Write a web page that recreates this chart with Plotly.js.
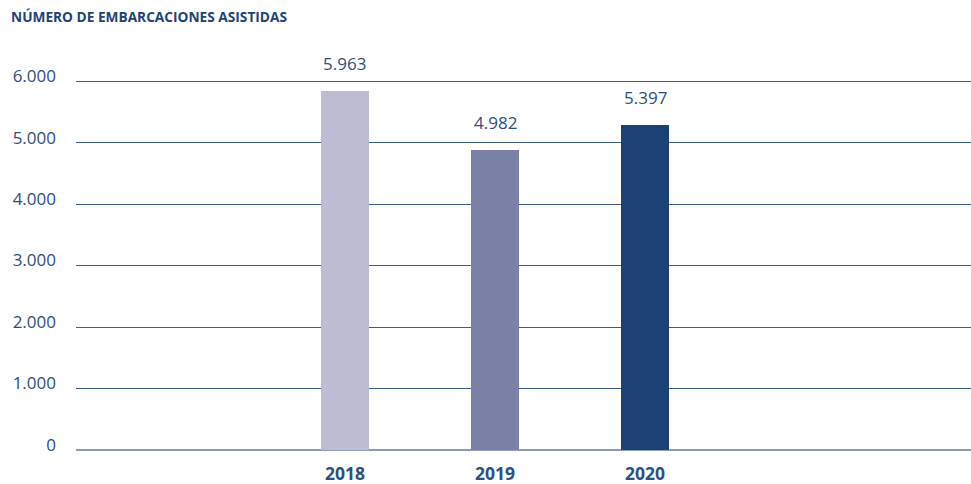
<!DOCTYPE html>
<html><head><meta charset="utf-8">
<script src="https://cdn.plot.ly/plotly-3.0.1.min.js"></script>
<style>html,body{margin:0;padding:0;background:#fff}#c{width:971px;height:484px}</style>
</head><body><div id="c"></div>
<script>
const years = [2018, 2019, 2020];
const labelValues = [5963, 4982, 5397];      // printed values
const barHeights = [5840, 4880, 5285];       // heights as drawn in the picture
const colors = ['#bcbdd3', '#7a80a6', '#1c4174'];
const yTicks = [0, 1000, 2000, 3000, 4000, 5000, 6000];
const fmtDot = v => String(v).replace(/\B(?=(\d{3})+(?!\d))/g, '.');

const trace = {
  type: 'bar', x: years, y: barHeights, width: 0.32,
  marker: {color: colors}, hoverinfo: 'skip'
};
const annotations = years.map((yr, i) => ({
  x: yr, y: barHeights[i], xref: 'x', yref: 'y', text: fmtDot(labelValues[i]),
  showarrow: false, yanchor: 'bottom', yshift: 14,
  font: {family: 'Open Sans', size: 17, color: '#2d4f80'}
}));
Plotly.newPlot('c', [trace], {
  width: 971, height: 484,
  margin: {l: 76, r: 0, t: 78, b: 34},
  paper_bgcolor: '#fff', plot_bgcolor: '#fff',
  showlegend: false,
  title: {text: '<b>NÚMERO DE EMBARCACIONES ASISTIDAS</b>', x: 11/971, xanchor: 'left', xref: 'container',
          y: 1 - 17.5/484, yanchor: 'middle', yref: 'container',
          font: {family: 'Open Sans', size: 13.7, color: '#1f4378'}},
  xaxis: {type: 'linear', range: [2016.207, 2022.173], tickvals: years, ticktext: years.map(y => '<b>' + y + '</b>'),
          showgrid: false, zeroline: false, showline: false, ticks: '', ticklabelstandoff: 11,
          tickfont: {family: 'Open Sans', size: 17.5, color: '#2d4f80'}},
  yaxis: {range: [0, 6050], tickvals: yTicks, ticktext: yTicks.map(fmtDot),
          showgrid: true, gridcolor: '#3d5f8f', gridwidth: 1,
          zeroline: true, zerolinecolor: '#8c9cbb', zerolinewidth: 2,
          showline: false, ticks: '', ticklabelstandoff: 19, ticklabelshift: -5,
          tickfont: {family: 'Open Sans', size: 17, color: '#2d4f80'}},
  annotations: annotations
}, {displayModeBar: false, staticPlot: true});
</script></body></html>
